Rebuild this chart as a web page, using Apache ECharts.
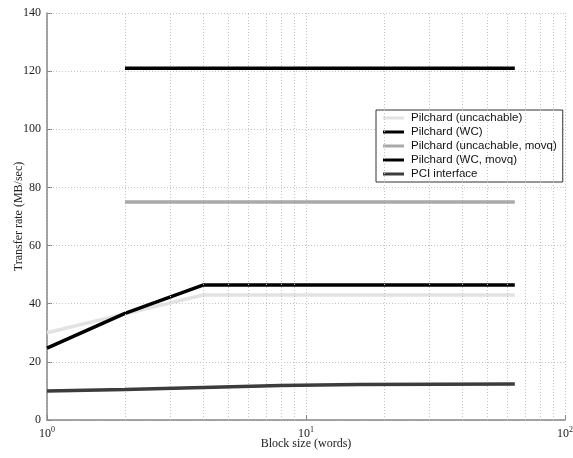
<!DOCTYPE html>
<html>
<head>
<meta charset="utf-8">
<script src="https://cdn.jsdelivr.net/npm/echarts@6/dist/echarts.min.js"></script>
<style>html,body{margin:0;padding:0;background:#fff}#c{width:573px;height:458px}</style>
</head>
<body>
<div id="c"></div>
<script>
var blockSizes = [1, 2, 4, 8, 16, 32, 64];
var movqSizes = [2, 4, 8, 16, 32, 64];
var uncachable = [30.0, 36.5, 43.0, 43.0, 43.0, 43.0, 43.0];
var wc = [24.7, 36.7, 46.4, 46.4, 46.4, 46.4, 46.4];
var uncachableMovq = [75, 75, 75, 75, 75, 75];
var wcMovq = [121, 121, 121, 121, 121, 121];
var pci = [10.0, 10.5, 11.2, 11.9, 12.2, 12.3, 12.4];
var seriesNames = ['Pilchard (uncachable)', 'Pilchard (WC)', 'Pilchard (uncachable, movq)', 'Pilchard (WC, movq)', 'PCI interface'];
var minorXTicks = [2, 3, 4, 5, 6, 7, 8, 9, 20, 30, 40, 50, 60, 70, 80, 90];
var xTitle = 'Block size (words)';
var yTitle = 'Transfer rate (MB/sec)';

function pairs(xs, ys) { return xs.map(function (x, i) { return [x, ys[i]]; }); }

var serif = '"Liberation Serif", "DejaVu Serif", serif';
var sans = '"Liberation Sans", Arial, sans-serif';
var colors = ['#e2e2e2', '#000000', '#a9a9a9', '#000000', '#3c3c3c'];
var datasets = [pairs(blockSizes, uncachable), pairs(blockSizes, wc), pairs(movqSizes, uncachableMovq), pairs(movqSizes, wcMovq), pairs(blockSizes, pci)];

var series = datasets.map(function (d, i) {
  return {
    name: seriesNames[i], type: 'line', data: d, showSymbol: false, symbol: 'none',
    color: colors[i], lineStyle: { color: colors[i], width: 3.5 }, z: 3 + i, animation: false
  };
});
series.push({
  type: 'line', data: [], silent: true, z: 1,
  markLine: {
    silent: true, symbol: 'none', animation: false, label: { show: false },
    lineStyle: { color: '#c4c4c4', type: [1, 2], width: 1 },
    data: minorXTicks.map(function (v) { return { xAxis: v }; })
  }
});

var chart = echarts.init(document.getElementById('c'), null, { renderer: 'canvas' });
chart.setOption({
  animation: false,
  backgroundColor: '#fff',
  grid: { left: 47, right: 8, top: 13, bottom: 38, containLabel: false, outerBoundsMode: 'none' },
  legend: {
    orient: 'vertical', left: 376, top: 110,
    data: seriesNames,
    icon: 'rect', itemWidth: 21, itemHeight: 3, itemGap: 0,
    padding: [1, 6, 1, 7],
    borderColor: '#333', borderWidth: 1, backgroundColor: '#fff',
    textStyle: { fontFamily: sans, fontSize: 11.5, color: '#111', lineHeight: 14, padding: [0, 0, 0, 2] }
  },
  xAxis: {
    type: 'log', logBase: 10, min: 1, max: 100,
    name: xTitle, nameLocation: 'middle', nameGap: 18, nameMoveOverlap: false,
    nameTextStyle: { fontFamily: serif, fontSize: 12, color: '#222' },
    axisLine: { show: true, lineStyle: { color: '#888', width: 1.5 } },
    axisTick: { show: true, inside: true, length: 5, lineStyle: { color: '#888' } },
    splitLine: { show: true, lineStyle: { color: '#c4c4c4', type: [1, 2], width: 1 } },
    axisLabel: {
      margin: 6,
      formatter: function (v) { return '{b|10}{s|' + Math.round(Math.log10(v)) + '}'; },
      rich: {
        b: { fontFamily: serif, fontSize: 12, color: '#222' },
        s: { fontFamily: serif, fontSize: 8, color: '#222', padding: [0, 0, 8, 0] }
      }
    }
  },
  yAxis: {
    type: 'value', min: 0, max: 140, interval: 20,
    name: yTitle, nameLocation: 'middle', nameGap: 22, nameMoveOverlap: false,
    nameTextStyle: { fontFamily: serif, fontSize: 12, color: '#222' },
    axisLine: { show: true, lineStyle: { color: '#888', width: 1.5 } },
    axisTick: { show: true, inside: true, length: 5, lineStyle: { color: '#888' } },
    splitLine: { show: true, lineStyle: { color: '#c4c4c4', type: [1, 2], width: 1 } },
    axisLabel: { fontFamily: serif, fontSize: 12, color: '#222', margin: 6 }
  },
  series: series
});
</script>
</body>
</html>
